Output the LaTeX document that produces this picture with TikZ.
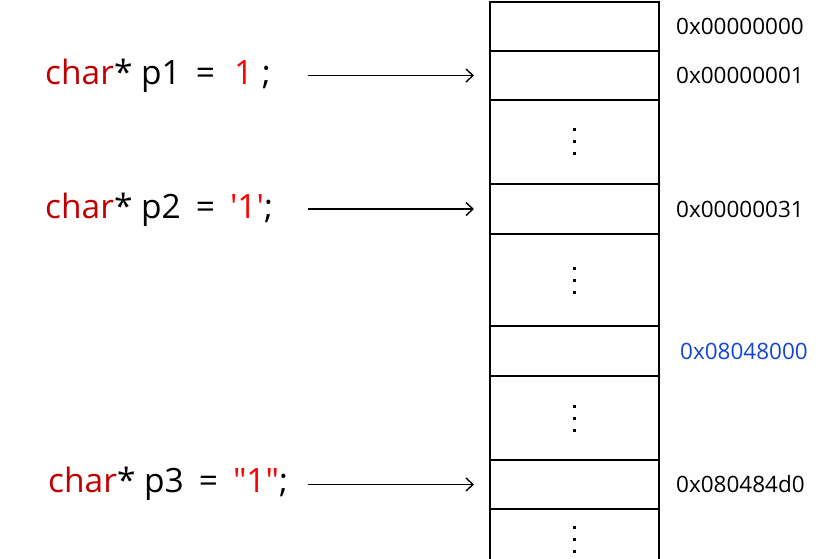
\documentclass[tikz,border=0pt]{standalone}
\usepackage{fontspec}
\setmainfont{Open Sans}
\usetikzlibrary{positioning,arrows.meta}
\definecolor{kwred}{RGB}{192,0,0}
\definecolor{litred}{RGB}{255,0,0}
\definecolor{addrblue}{RGB}{20,70,210}
\newcommand{\kw}[1]{\textcolor{kwred}{#1}}
\newcommand{\lit}[1]{\textcolor{litred}{#1}}
\newcommand{\gap}{\hspace{15pt}}

\begin{document}
\begin{tikzpicture}[x=1pt,y=1pt,
  cell/.style={draw, line width=1.2pt, minimum width=169pt, inner sep=0pt, outer sep=0pt},
  code/.style={font=\fontsize{33.5}{38}\selectfont, anchor=west, inner sep=0pt},
  addr/.style={font=\fontsize{22.5}{26}\selectfont, inner sep=0pt},
  ptr/.style={-{Straight Barb[length=7pt,width=13pt,line width=1.4pt]}, line width=1.4pt, shorten >=16pt},
  vdot/.style={fill, minimum size=3pt, inner sep=0pt, outer sep=0pt}]
\useasboundingbox (0,0) rectangle (833,558);
% memory column
\node[cell, minimum height=49pt, anchor=north west] (c0) at (490,556) {};
\node[cell, minimum height=49pt, below=0pt of c0] (c1) {};
\node[cell, minimum height=84pt, below=0pt of c1] (g1) {};
\node[cell, minimum height=50pt, below=0pt of g1] (c2) {};
\node[cell, minimum height=92pt, below=0pt of c2] (g2) {};
\node[cell, minimum height=50pt, below=0pt of g2] (c3) {};
\node[cell, minimum height=84pt, below=0pt of c3] (g3) {};
\node[cell, minimum height=49pt, below=0pt of g3] (c4) {};
\node[minimum width=169pt, minimum height=60pt, inner sep=0pt, outer sep=0pt, below=0pt of c4] (g4) {};
\draw[line width=1.2pt] (g4.north west) -- (g4.south west) (g4.north east) -- (g4.south east);
% dots in the gaps
\foreach \g in {g1,g2,g3,g4}
  \foreach \k in {-12,0,12}
    \node[vdot] at ([yshift=\k pt]\g.center) {};
% addresses
\node[addr, right=17pt of c0] (a0) {0x00000000};
\node[addr, right=17pt of c1] (a1) {0x00000001};
\node[addr, right=17pt of c2] (a2) {0x00000031};
\node[addr, right=21pt of c3, text=addrblue] (a3) {0x08048000};
\node[addr, right=17pt of c4] (a4) {0x080484d0};
% code lines
\node[code] (p1) at (45,482) {\kw{char}* p1\gap=\gap\hspace{4pt}\lit{1} ;};
\node[code] (p2) at (45,348) {\kw{char}* p2\gap=\gap\lit{\textquotesingle 1\textquotesingle};};
\node[code] (p3) at (48,74) {\kw{char}* p3\gap=\gap\lit{\textquotedbl 1\textquotedbl}; };
\coordinate (tail) at (308,0);
\draw[ptr] (tail |- c1) -- (c1);
\draw[ptr] (tail |- c2) -- (c2);
\draw[ptr] (tail |- c4) -- (c4);
\end{tikzpicture}
\end{document}
